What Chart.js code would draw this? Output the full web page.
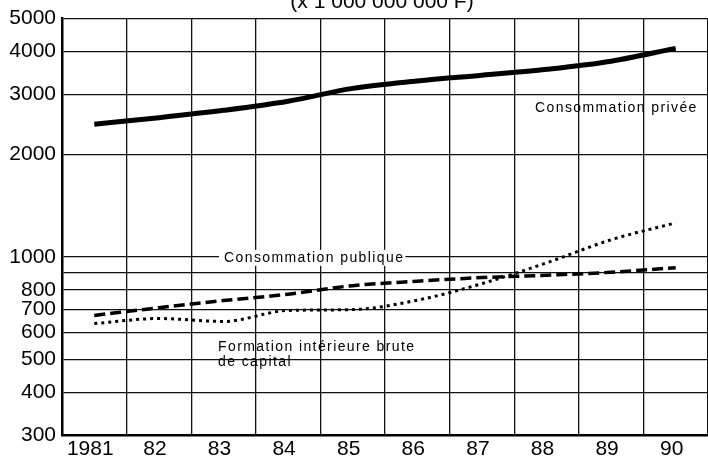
<!DOCTYPE html>
<html>
<head>
<meta charset="utf-8">
<script src="https://cdn.jsdelivr.net/npm/chart.js@4/dist/chart.umd.min.js"></script>
<style>
  html, body { margin: 0; padding: 0; background: #fff; }
  #wrap { width: 708px; height: 458px; }
</style>
</head>
<body>
<div id="wrap"><canvas id="chart"></canvas></div>
<script>
// annees et series (milliards de F)
let years = ['1981', '82', '83', '84', '85', '86', '87', '88', '89', '90'];
let consoPrivee = [2450, 2560, 2690, 2860, 3120, 3280, 3410, 3550, 3750, 4090];
let consoPublique = [673, 709, 744, 777, 823, 848, 869, 883, 901, 929];
let formationCapital = [637, 659, 646, 696, 700, 746, 834, 960, 1122, 1258];
let yTicks = [300, 400, 500, 600, 700, 800, 900, 1000, 2000, 3000, 4000, 5000];

let font = "'Liberation Sans', Arial, sans-serif";

// titre coupe en haut + libelles des courbes
let textPlugin = {
    id: 'texts',
    afterDatasetsDraw: function (chart) {
        let ctx = chart.ctx;
        let y = chart.scales.y;
        ctx.save();
        ctx.fillStyle = '#000';

        ctx.font = '21px ' + font;
        ctx.textAlign = 'center';
        ctx.textBaseline = 'alphabetic';
        ctx.fillText('(x 1 000 000 000 F)', 382, 8);

        ctx.textAlign = 'left';
        ctx.textBaseline = 'middle';
        ctx.font = '14px ' + font;
        ctx.letterSpacing = '1.4px';

        // fond blanc sous "Consommation publique" (coupe la ligne 1000)
        let pubY = y.getPixelForValue(1000) + 1;
        let w = ctx.measureText('Consommation publique').width;
        ctx.fillStyle = '#fff';
        ctx.fillRect(219, pubY - 8, w + 6, 16);
        ctx.fillStyle = '#000';
        ctx.fillText('Consommation publique', 224, pubY);

        ctx.fillText('Consommation privée', 535, 108);
        ctx.fillText('Formation intérieure brute', 218, 347);
        ctx.fillText('de capital', 218, 362);
        ctx.restore();
    }
};

new Chart(document.getElementById('chart'), {
    type: 'line',
    data: {
        labels: years,
        datasets: [{
            label: 'Formation intérieure brute de capital',
            data: formationCapital,
            borderColor: '#000',
            borderWidth: 3,
            borderDash: [3, 4],
            cubicInterpolationMode: 'monotone',
            pointRadius: 0,
            fill: false
        }, {
            label: 'Consommation publique',
            data: consoPublique,
            borderColor: '#000',
            borderWidth: 3.5,
            borderDash: [11, 5],
            cubicInterpolationMode: 'monotone',
            pointRadius: 0,
            fill: false
        }, {
            label: 'Consommation privée',
            data: consoPrivee,
            borderColor: '#000',
            borderWidth: 5,
            cubicInterpolationMode: 'monotone',
            pointRadius: 0,
            fill: false
        }]
    },
    options: {
        responsive: true,
        maintainAspectRatio: false,
        animation: false,
        layout: {
            padding: { top: 17, right: 0, left: 0, bottom: 0 }
        },
        plugins: {
            legend: { display: false },
            tooltip: { enabled: false },
            title: { display: false }
        },
        scales: {
            x: {
                offset: true,
                grid: {
                    offset: true,
                    color: '#111',
                    lineWidth: 1.3,
                    drawTicks: false
                },
                border: { color: '#000', width: 2.5 },
                ticks: {
                    color: '#000',
                    font: { family: font, size: 21 },
                    padding: 2,
                    labelOffset: -4,
                    maxRotation: 0,
                    autoSkip: false
                },
                afterFit: function (scale) {
                    scale.height = 23;
                }
            },
            y: {
                type: 'logarithmic',
                min: 300,
                max: 5000,
                afterBuildTicks: function (scale) {
                    scale.ticks = yTicks.map(function (v) { return { value: v }; });
                },
                grid: {
                    color: '#111',
                    lineWidth: 1.3,
                    drawTicks: false
                },
                border: { color: '#000', width: 2.5 },
                ticks: {
                    color: '#000',
                    font: { family: font, size: 21 },
                    padding: 6,
                    autoSkip: false,
                    callback: function (value) {
                        if (value === 900) return '';
                        return String(value);
                    }
                },
                afterFit: function (scale) {
                    scale.width = 62;
                }
            }
        }
    },
    plugins: [textPlugin]
});
</script>
</body>
</html>
